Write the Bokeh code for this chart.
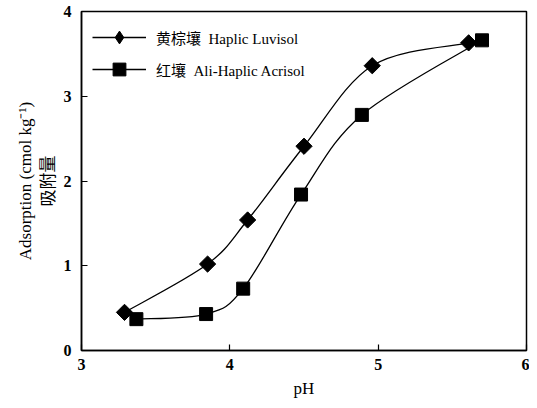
import math
from bokeh.plotting import figure
from bokeh.models import Legend, LegendItem, FixedTicker, Range1d
from bokeh.embed import file_html
from bokeh.resources import INLINE

ph_luvisol = [3.29, 3.85, 4.12, 4.50, 4.96, 5.61]
ads_luvisol = [0.45, 1.02, 1.54, 2.41, 3.36, 3.63]
ph_acrisol = [3.37, 3.84, 4.09, 4.48, 4.89, 5.70]
ads_acrisol = [0.37, 0.43, 0.73, 1.84, 2.78, 3.66]
x_ticks = [3, 4, 5, 6]
y_ticks = [0, 1, 2, 3, 4]
label_luvisol = "黄棕壤  Haplic Luvisol"
label_acrisol = "红壤  Ali-Haplic Acrisol"

SERIF = "Liberation Serif, Noto Sans CJK SC"


def catmull(xs, ys):
    n = len(xs)
    px = [xs[0]] + list(xs) + [xs[-1]]
    py = [ys[0]] + list(ys) + [ys[-1]]
    d = dict(x0=[], y0=[], x1=[], y1=[], cx0=[], cy0=[], cx1=[], cy1=[])
    for i in range(1, n):
        d["x0"].append(px[i]); d["y0"].append(py[i])
        d["x1"].append(px[i + 1]); d["y1"].append(py[i + 1])
        d["cx0"].append(px[i] + (px[i + 1] - px[i - 1]) / 6)
        d["cy0"].append(py[i] + (py[i + 1] - py[i - 1]) / 6)
        d["cx1"].append(px[i + 1] - (px[i + 2] - px[i]) / 6)
        d["cy1"].append(py[i + 1] - (py[i + 2] - py[i]) / 6)
    return d


p = figure(width=529, height=400, output_backend="svg", toolbar_location=None,
           x_range=Range1d(3, 6), y_range=Range1d(0, 4),
           min_border_left=81, min_border_right=3, min_border_top=11, min_border_bottom=47)
p.grid.visible = False
p.outline_line_color = "black"
p.outline_line_width = 1.5
p.background_fill_color = "white"
p.border_fill_color = "white"

b1 = p.bezier(source=catmull(ph_luvisol, ads_luvisol), x0="x0", y0="y0", x1="x1", y1="y1",
              cx0="cx0", cy0="cy0", cx1="cx1", cy1="cy1", line_color="black", line_width=1.3)
# diamond key used for the legend; drawn underneath the rotated squares
k1 = p.scatter(ph_luvisol, ads_luvisol, marker="diamond", size=14, color="black")
s1 = p.scatter(ph_luvisol, ads_luvisol, marker="square", angle=math.pi / 4, size=11.5, color="black")
b2 = p.bezier(source=catmull(ph_acrisol, ads_acrisol), x0="x0", y0="y0", x1="x1", y1="y1",
              cx0="cx0", cy0="cy0", cx1="cx1", cy1="cy1", line_color="black", line_width=1.3)
s2 = p.scatter(ph_acrisol, ads_acrisol, marker="square", size=13, color="black")

for ax in (p.xaxis[0], p.yaxis[0]):
    ax.axis_line_color = "black"
    ax.axis_line_width = 1.5
    ax.major_tick_in = 6
    ax.major_tick_out = 0
    ax.minor_tick_line_color = None
    ax.major_tick_line_color = "black"
    ax.major_tick_line_width = 1.2
    ax.major_label_text_font = SERIF
    ax.major_label_text_font_size = "16px"
    ax.major_label_text_font_style = "bold"
    ax.major_label_text_color = "black"
    ax.axis_label_text_font = SERIF
    ax.axis_label_text_font_size = "17px"
    ax.axis_label_text_font_style = "normal"
    ax.axis_label_text_color = "black"

p.xaxis[0].ticker = FixedTicker(ticks=x_ticks)
p.yaxis[0].ticker = FixedTicker(ticks=y_ticks)
p.xaxis[0].axis_label = "pH"
p.xaxis[0].major_label_standoff = 8
p.xaxis[0].axis_label_standoff = 6
p.yaxis[0].axis_label = "Adsorption (cmol kg⁻¹)\n吸附量"
p.yaxis[0].major_label_standoff = 10
p.yaxis[0].axis_label_standoff = 3

legend = Legend(items=[LegendItem(label=label_luvisol, renderers=[b1, k1]),
                       LegendItem(label=label_acrisol, renderers=[b2, s2])],
                location=(11, 265), orientation="vertical",
                glyph_width=54, glyph_height=32, spacing=-1, padding=0, margin=0,
                label_standoff=10, label_text_font=SERIF, label_text_font_size="15px",
                label_text_font_style="normal", label_text_color="black",
                border_line_color=None, background_fill_alpha=0)
p.add_layout(legend, "center")

open("out.html", "w").write(file_html(p, INLINE))
